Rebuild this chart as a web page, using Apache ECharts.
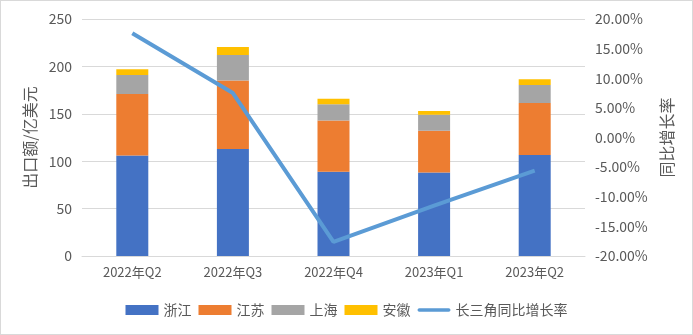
<!DOCTYPE html>
<html>
<head>
<meta charset="utf-8">
<script src="https://cdn.jsdelivr.net/npm/echarts@6/dist/echarts.min.js"></script>
<style>
html,body{margin:0;padding:0;background:#fff;}
#chart{width:693px;height:335px;box-sizing:border-box;border:1px solid #d9d9d9;}
</style>
</head>
<body>
<div id="chart"></div>
<script>
// Quarterly export value of Yangtze River Delta provinces (100M USD) and YoY growth
const quarters = ['2022年Q2', '2022年Q3', '2022年Q4', '2023年Q1', '2023年Q2'];
const zhejiang = [106, 113, 89, 88, 106.5];
const jiangsu  = [65, 72, 54, 44, 55];
const shanghai = [20, 27, 17, 17, 19];
const anhui    = [6, 8.5, 6, 4, 6];
const yoyGrowth = [17.6, 7.5, -17.6, -11.5, -5.6]; // percent

const FONT = '"Noto Sans CJK SC", "Liberation Sans", sans-serif';
const TXT = '#595959';

const chart = echarts.init(document.getElementById('chart'));

function barSeries(name, data, color) {
  return {
    name: name, type: 'bar', stack: 'total', data: data,
    barWidth: 32, itemStyle: { color: color }
  };
}

chart.setOption({
  animation: false,
  textStyle: { fontFamily: FONT },
  grid: { left: 81, right: 107, top: 18, bottom: 78 },
  legend: {
    bottom: 12, left: 'center',
    itemWidth: 33, itemHeight: 10, itemGap: 7,
    symbolKeepAspect: true,
    textStyle: { color: TXT, fontSize: 14, fontFamily: FONT },
    data: [
      { name: '浙江', icon: 'rect' },
      { name: '江苏', icon: 'rect' },
      { name: '上海', icon: 'rect' },
      { name: '安徽', icon: 'rect' },
      // plain stroke marker for the growth line
      { name: '长三角同比增长率', icon: 'path://M2,0H34A2,2 0 0 1 34,4H2A2,2 0 0 1 2,0Z' }
    ]
  },
  xAxis: {
    type: 'category', data: quarters,
    axisLine: { lineStyle: { color: '#d9d9d9' } },
    axisTick: { show: false },
    axisLabel: { color: TXT, fontSize: 13, margin: 10 }
  },
  yAxis: [
    {
      type: 'value', min: 0, max: 250, interval: 50,
      name: '出口额/亿美元', nameLocation: 'middle', nameGap: 42, nameRotate: 90,
      nameTextStyle: { color: TXT, fontSize: 16 },
      axisLabel: { color: TXT, fontSize: 14, margin: 10 },
      axisLine: { show: false }, axisTick: { show: false },
      splitLine: { lineStyle: { color: '#d9d9d9' } }
    },
    {
      type: 'value', min: -20, max: 20, interval: 5,
      name: '同比增长率', nameLocation: 'middle', nameGap: 63, nameRotate: 90,
      nameTextStyle: { color: TXT, fontSize: 16 },
      axisLabel: { color: TXT, fontSize: 14, margin: 10,
        formatter: v => v.toFixed(2) + '%' },
      axisLine: { show: false }, axisTick: { show: false },
      splitLine: { show: false }
    }
  ],
  series: [
    barSeries('浙江', zhejiang, '#4472C4'),
    barSeries('江苏', jiangsu, '#ED7D31'),
    barSeries('上海', shanghai, '#A5A5A5'),
    barSeries('安徽', anhui, '#FFC000'),
    {
      name: '长三角同比增长率', type: 'line', yAxisIndex: 1, data: yoyGrowth,
      symbol: 'none',
      lineStyle: { color: '#5B9BD5', width: 4 },
      itemStyle: { color: '#5B9BD5' }
    }
  ]
});
</script>
</body>
</html>
